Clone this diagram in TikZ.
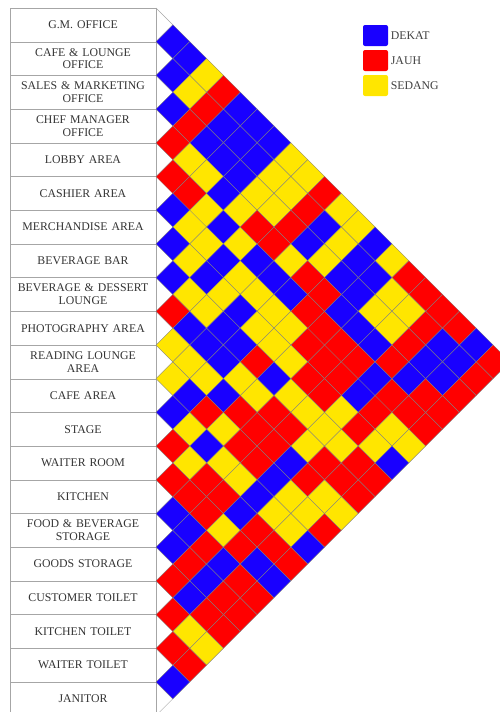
\documentclass[tikz,border=0pt]{standalone}
\usepackage{fontspec}
\setmainfont{Liberation Serif}
\usetikzlibrary{positioning}

\definecolor{dekat}{RGB}{25,0,255}
\definecolor{jauh}{RGB}{255,0,0}
\definecolor{sedang}{RGB}{255,230,0}
\colorlet{D}{dekat}
\colorlet{J}{jauh}
\colorlet{S}{sedang}

\tikzset{
  room/.style={draw=gray!70, minimum width=146pt, minimum height=33.7pt,
    inner sep=1pt, text width=140pt, align=center,
    font=\fontsize{11.8}{12.8}\selectfont, text=black!80},
  cell/.style={draw=black!50, line width=0.35pt},
  keybox/.style={minimum width=25pt, minimum height=21pt, rounded corners=2pt, inner sep=0pt},
  keytext/.style={font=\fontsize{11.8}{12.8}\selectfont, text=black!75, inner sep=0pt}
}

\begin{document}
\begin{tikzpicture}[x=1pt,y=-1pt]
\useasboundingbox (0,0) rectangle (500,712);

% === Left: list of rooms ===
\foreach \name [count=\r from 0] in {G.M. OFFICE, CAFE \& LOUNGE\\OFFICE,
    SALES \& MARKETING\\OFFICE, CHEF MANAGER\\OFFICE, LOBBY AREA, CASHIER AREA,
    MERCHANDISE AREA, BEVERAGE BAR, BEVERAGE \& DESSERT\\LOUNGE, PHOTOGRAPHY AREA,
    READING LOUNGE\\AREA, CAFE AREA, STAGE, WAITER ROOM, KITCHEN,
    FOOD \& BEVERAGE\\STORAGE, GOODS STORAGE, CUSTOMER TOILET, KITCHEN TOILET,
    WAITER TOILET, JANITOR} {
  \node[room] (r\r) at (83,{8+33.7*(\r+0.5)}) {\name};
}

% === Outline of the matrix ===
\draw[gray!70] (156,8) -- (509.85,361.85) -- (156,715.7);

% === Right: relationship cells (D = dekat, J = jauh, S = sedang) ===
% row i holds the pairs (i,i+1) ... (i,20)
\foreach \i/\cols in {
    0/{D,D,S,J,D,D,D,S,S,J,S,S,D,S,J,J,J,J,D,J},
    1/{D,S,J,D,D,D,S,S,J,D,S,D,D,S,S,J,D,D,J},
    2/{D,J,D,D,D,S,S,J,D,S,D,D,S,S,J,D,D,J},
    3/{J,S,S,D,S,J,J,S,J,J,D,D,D,J,D,J,J},
    4/{J,J,S,D,S,D,D,D,J,J,J,J,D,J,J,J},
    5/{D,S,S,D,S,S,S,S,J,J,J,D,J,S,S},
    6/{D,S,D,S,D,S,S,S,J,J,S,J,S,D},
    7/{D,S,S,D,D,J,D,S,S,S,S,J,J},
    8/{J,D,D,D,S,S,J,J,S,J,J,J},
    9/{S,S,S,D,J,J,J,D,J,S,S},
    10/{S,D,J,S,J,J,D,S,S,J},
    11/{D,S,D,S,S,D,S,S,D},
    12/{J,S,J,J,D,J,J,J},
    13/{J,J,J,S,J,D,D},
    14/{D,D,J,D,J,J},
    15/{D,J,D,J,J},
    16/{J,D,J,J},
    17/{J,S,S},
    18/{J,J},
    19/{D}} {
  \foreach \c [count=\k] in \cols {
    \pgfmathsetmacro{\cx}{156+16.85*\k}
    \pgfmathsetmacro{\cy}{8+16.85*(2*\i+\k+1)}
    \filldraw[cell,fill=\c] (\cx-16.85,\cy) -- (\cx,\cy-16.85)
      -- (\cx+16.85,\cy) -- (\cx,\cy+16.85) -- cycle;
  }
}

% === Legend ===
\node[keybox, fill=dekat] (kD) at (375.5,35.5) {};
\node[keybox, fill=jauh] (kJ) at (375.5,60.5) {};
\node[keybox, fill=sedang] (kS) at (375.5,85.5) {};
\node[keytext, right=2.5pt of kD] (tD) {DEKAT};
\node[keytext, right=2.5pt of kJ] (tJ) {JAUH};
\node[keytext, right=2.5pt of kS] (tS) {SEDANG};

\end{tikzpicture}
\end{document}
